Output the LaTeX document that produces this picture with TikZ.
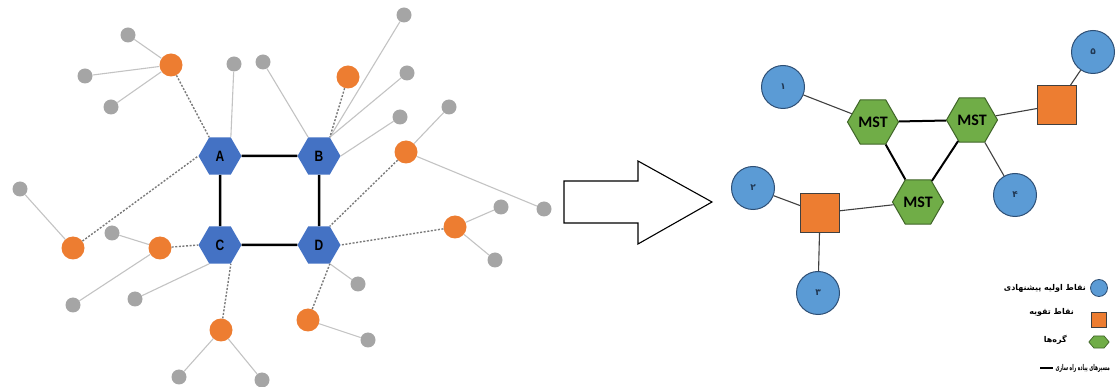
\documentclass[tikz,border=0pt]{standalone}
\usepackage{fontspec}
\usepackage{graphicx}
\setmainfont{Liberation Sans}
\newfontfamily\farsi[Script=Arabic]{DejaVu Sans}
\newfontfamily\mstfont{Carlito}
\TeXXeTstate=1
\usepackage{tikz}
\usetikzlibrary{shapes.geometric, arrows.meta, positioning}
\definecolor{hexblue}{HTML}{4472C4}
\definecolor{dotorange}{HTML}{ED7D31}
\definecolor{dotgrey}{HTML}{A5A5A5}
\definecolor{leafgrey}{HTML}{C3C3C3}
\definecolor{dashgrey}{HTML}{7A7A7A}
\definecolor{ptblue}{HTML}{5B9BD5}
\definecolor{ptborder}{HTML}{2E4F75}
\definecolor{mstgreen}{HTML}{70AD47}
\definecolor{mstborder}{HTML}{3F6428}
\definecolor{edgegrey}{HTML}{404040}
\tikzset{
    hub/.style={regular polygon, regular polygon sides=6, inner sep=0pt, minimum size=43pt, fill=hexblue, font=\bfseries\fontsize{15}{15}\selectfont},
    relaydot/.style={circle, inner sep=0pt, minimum size=23pt, fill=dotorange},
    leafdot/.style={circle, inner sep=0pt, minimum size=15pt, fill=dotgrey},
    leaf/.style={draw=leafgrey, line width=1.1pt},
    link/.style={draw=dashgrey, line width=1.4pt, dash pattern=on 2pt off 1.6pt},
    bond/.style={draw=black, line width=2.5pt},
    mst/.style={regular polygon, regular polygon sides=6, inner sep=0pt, minimum size=51pt, fill=mstgreen, draw=mstborder, line width=1pt, font=\mstfont\bfseries\fontsize{16}{16}\selectfont},
    point/.style={circle, inner sep=0pt, minimum size=43pt, fill=ptblue, draw=ptborder, line width=1pt, font=\farsi\bfseries\fontsize{9}{9}\selectfont, text=ptborder!70!black},
    relay/.style={rectangle, inner sep=0pt, minimum size=39pt, fill=dotorange, draw=edgegrey, line width=1pt},
    thin/.style={draw=edgegrey, line width=1.1pt},
    thick/.style={draw=black, line width=2pt},
    keytext/.style={font=\farsi\bfseries\fontsize{8}{8}\selectfont, inner sep=0pt}
}
\newcommand{\hublabel}[1]{\scalebox{0.8}[1]{#1}}

\begin{document}
\begin{tikzpicture}[x=1pt, y=-1pt]
    \useasboundingbox (0,0) rectangle (1120,387);
    % Left: hubs
    \node (A) [hub] at (220,156) {\hublabel{A}};
    \node (B) [hub] at (319,156) {\hublabel{B}};
    \node (C) [hub] at (220,245) {\hublabel{C}};
    \node (D) [hub] at (319,245) {\hublabel{D}};
    % Left: orange points
    \node (o1) [relaydot] at (171,65) {};
    \node (o2) [relaydot] at (348,77) {};
    \node (o3) [relaydot] at (406,152) {};
    \node (o4) [relaydot] at (455,227) {};
    \node (o5) [relaydot] at (308,320) {};
    \node (o6) [relaydot] at (221,330) {};
    \node (o7) [relaydot] at (160,248) {};
    \node (o8) [relaydot] at (73,248) {};
    % Left: grey points
    \node (g1) [leafdot] at (128,35) {};
    \node (g2) [leafdot] at (85,76) {};
    \node (g3) [leafdot] at (111,107) {};
    \node (g4) [leafdot] at (234,64) {};
    \node (g5) [leafdot] at (263,62) {};
    \node (g6) [leafdot] at (404,15) {};
    \node (g7) [leafdot] at (407,73) {};
    \node (g8) [leafdot] at (400,117) {};
    \node (g9) [leafdot] at (449,107) {};
    \node (g10) [leafdot] at (544,209) {};
    \node (g11) [leafdot] at (501,207) {};
    \node (g12) [leafdot] at (495,260) {};
    \node (g13) [leafdot] at (358,284) {};
    \node (g14) [leafdot] at (368,340) {};
    \node (g15) [leafdot] at (262,380) {};
    \node (g16) [leafdot] at (179,377) {};
    \node (g17) [leafdot] at (135,299) {};
    \node (g18) [leafdot] at (73,305) {};
    \node (g19) [leafdot] at (112,233) {};
    \node (g20) [leafdot] at (20,189) {};
    % Left: solid leaf lines
    \draw [leaf] (o1) -- (g1);
    \draw [leaf] (o1) -- (g2);
    \draw [leaf] (o1) -- (g3);
    \draw [leaf] (A.60) -- (g4);
    \draw [leaf] (B.120) -- (g5);
    \draw [leaf] (B.60) -- (g6);
    \draw [leaf] (B.60) -- (g7);
    \draw [leaf] (B.0) -- (g8);
    \draw [leaf] (o3) -- (g9);
    \draw [leaf] (o3) -- (g10);
    \draw [leaf] (o4) -- (g11);
    \draw [leaf] (o4) -- (g12);
    \draw [leaf] (D.300) -- (g13);
    \draw [leaf] (o5) -- (g14);
    \draw [leaf] (o6) -- (g15);
    \draw [leaf] (o6) -- (g16);
    \draw [leaf] (C.240) -- (g17);
    \draw [leaf] (o7) -- (g18);
    \draw [leaf] (o7) -- (g19);
    \draw [leaf] (o8) -- (g20);
    % Left: dashed links
    \draw [link] (o1) -- (A.120);
    \draw [link] (o8) -- (A.180);
    \draw [link] (o2) -- (B.60);
    \draw [link] (o3) -- (D.60);
    \draw [link] (o4) -- (D.0);
    \draw [link] (o5) -- (D.300);
    \draw [link] (o6) -- (C.300);
    \draw [link] (o7) -- (C.180);
    % Left: square
    \draw [bond] (A) -- (B);
    \draw [bond] (A) -- (C);
    \draw [bond] (B) -- (D);
    \draw [bond] (C) -- (D);
    % Big arrow
    \draw [line width=1.1pt, line join=miter] (564,181) -- (638,181) -- (638,161) -- (712,202)
        -- (638,244) -- (638,223) -- (564,223) -- cycle;
    % Right: nodes
    \node (m1) [mst] at (873,122) {MST};
    \node (m2) [mst] at (972,120) {MST};
    \node (m3) [mst] at (918,202) {MST};
    \node (p1) [point] at (783,87) {۱};
    \node (p2) [point] at (753,188) {۲};
    \node (p3) [point] at (818,293) {۳};
    \node (p4) [point] at (1015,195) {۴};
    \node (p5) [point] at (1093,52) {۵};
    \node (r1) [relay] at (1057,105) {};
    \node (r2) [relay] at (820,213) {};
    % Right: edges
    \draw [thick] (m1) -- (m2);
    \draw [thick] (m1) -- (m3);
    \draw [thick] (m2) -- (m3);
    \draw [thin] (p1) -- (m1);
    \draw [thin] (m2) -- (r1);
    \draw [thin] (r1) -- (p5);
    \draw [thin] (m2) -- (p4);
    \draw [thin] (m3) -- (r2);
    \draw [thin] (r2) -- (p2);
    \draw [thin] (r2) -- (p3);
    % Legend
    \node (kcircle) [circle, inner sep=0pt, minimum size=17pt, fill=ptblue, draw=ptborder, line width=0.8pt] at (1099,288) {};
    \node (ksquare) [rectangle, inner sep=0pt, minimum size=15pt, fill=dotorange, draw=edgegrey, line width=0.8pt] at (1099,320) {};
    \node (khex) [regular polygon, regular polygon sides=6, inner sep=0pt, minimum size=14pt, xscale=1.45, transform shape, fill=mstgreen, draw=mstborder, line width=0.7pt] at (1099,342) {};
    \coordinate (kline) at (1040,368);
    \node (t1) [keytext, anchor=east] at (1086,288) {\beginR نقاط اولیه پیشنهادی\endR};
    \node (t2) [keytext, anchor=east] at (1074,312) {\beginR نقاط تقویه\endR};
    \node (t3) [keytext, anchor=east] at (1067,340) {\beginR گره‌ها\endR};
    \node (t4) [keytext, anchor=east] at (1110,368) {\scalebox{0.55}[1]{\beginR مسیرهای پیاده راه سازی\endR}};
    \draw [line width=1.4pt] (kline) -- ++(13,0);
\end{tikzpicture}
\end{document}
